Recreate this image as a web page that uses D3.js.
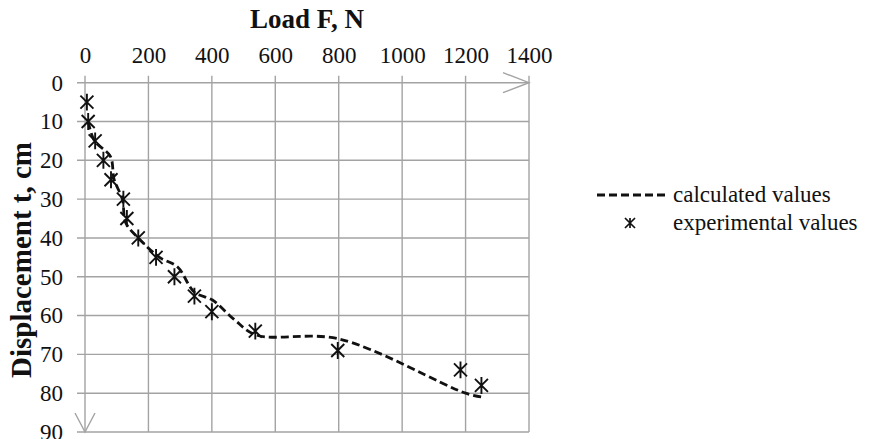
<!DOCTYPE html>
<html>
<head>
<meta charset="utf-8">
<script src="https://cdn.jsdelivr.net/npm/d3@7"></script>
<style>
  body { margin: 0; background: #fff; }
</style>
</head>
<body>
<div class="chart"></div>
<script>
// ticks
const xTicks = [0, 200, 400, 600, 800, 1000, 1200, 1400];
const yTicks = [0, 10, 20, 30, 40, 50, 60, 70, 80, 90];

// experimental values (load F, displacement t)
const expF = [6, 10, 32, 58, 82, 121, 132, 168, 224, 282, 345, 400, 537, 797, 1184, 1250];
const expT = [5, 10, 15, 20, 25, 30, 35, 40, 45, 50, 55, 59, 64, 69, 74, 78];

// calculated values
const calcF = [10, 30, 80, 92, 118, 128, 168, 235, 292, 345, 402, 470, 540, 800, 1200, 1252];
const calcT = [10, 15, 19, 25, 30, 36, 40, 45, 47.5, 54, 56, 61, 65, 66, 80, 81];

const serif = '"Liberation Serif"';
const W = 869, H = 439;
const svg = d3.select('.chart')
  .append('svg')
    .attr('width', W)
    .attr('height', H)
    .style('font-family', serif);

const x = d3.scaleLinear().domain([0, 1400]).range([85, 529]);
const y = d3.scaleLinear().domain([0, 90]).range([82.7, 432]);

const grid = '#a3a3a3';

// vertical gridlines
svg.append('g')
  .selectAll('line')
  .data(xTicks)
  .enter()
  .append('line')
    .attr('x1', d => x(d)).attr('x2', d => x(d))
    .attr('y1', y(0) - 7).attr('y2', y(90))
    .attr('stroke', grid)
    .attr('stroke-width', 1.4);

// horizontal gridlines
svg.append('g')
  .selectAll('line')
  .data(yTicks)
  .enter()
  .append('line')
    .attr('x1', x(0) - 8).attr('x2', x(1400))
    .attr('y1', d => y(d)).attr('y2', d => y(d))
    .attr('stroke', grid)
    .attr('stroke-width', 1.4);

// arrow heads
svg.append('path')
  .attr('d', `M${x(1400) - 26},${y(0) - 10} L${x(1400)},${y(0)} L${x(1400) - 26},${y(0) + 10}`)
  .attr('fill', 'none')
  .attr('stroke', grid)
  .attr('stroke-width', 1.4);
svg.append('path')
  .attr('d', `M${x(0) - 10},${y(90) - 19} L${x(0)},${y(90)} L${x(0) + 10},${y(90) - 19}`)
  .attr('fill', 'none')
  .attr('stroke', grid)
  .attr('stroke-width', 1.4);

// axes (labels only)
const xAxis = svg.append('g')
  .attr('transform', `translate(0, ${y(0)})`)
  .call(d3.axisTop(x).tickValues(xTicks).tickFormat(d3.format('d')).tickSize(0).tickPadding(20));
const yAxis = svg.append('g')
  .attr('transform', `translate(${x(0)}, 0)`)
  .call(d3.axisLeft(y).tickValues(yTicks).tickFormat(d3.format('d')).tickSize(0).tickPadding(22));
[xAxis, yAxis].forEach(a => {
  a.select('.domain').remove();
  a.selectAll('text')
    .attr('fill', '#111')
    .style('font-family', serif)
    .style('font-size', '23px');
});

// titles
svg.append('text')
  .attr('x', (x(0) + x(1400)) / 2)
  .attr('y', 28)
  .attr('text-anchor', 'middle')
  .attr('fill', '#111')
  .style('font-family', serif)
  .style('font-size', '27px')
  .style('font-weight', 'bold')
  .text('Load F, N');

svg.append('text')
  .attr('transform', `translate(31, 260) rotate(-90)`)
  .attr('text-anchor', 'middle')
  .attr('fill', '#111')
  .style('font-family', serif)
  .style('font-size', '29px')
  .style('font-weight', 'bold')
  .text('Displacement t, cm');

// calculated line
const calc = calcF.map((f, i) => ({ f: f, t: calcT[i] }));
const line = d3.line()
  .x(d => x(d.f))
  .y(d => y(d.t))
  .curve(d3.curveCatmullRom.alpha(0.5));

svg.append('path')
  .datum(calc)
  .attr('d', line)
  .attr('fill', 'none')
  .attr('stroke', '#111')
  .attr('stroke-width', 2.8)
  .attr('stroke-dasharray', '8,4');

// star marker
function star(g, s) {
  g.append('path')
    .attr('d', `M${-s},${-s}L${s},${s}M${-s},${s}L${s},${-s}M0,${-s * 1.3}L0,${s * 1.3}`)
    .attr('fill', 'none')
    .attr('stroke', '#111')
    .attr('stroke-width', 1.9);
}

const exp = expF.map((f, i) => ({ f: f, t: expT[i] }));
svg.append('g')
  .selectAll('g')
  .data(exp)
  .enter()
  .append('g')
    .attr('transform', d => `translate(${x(d.f)}, ${y(d.t)})`)
    .each(function () { star(d3.select(this), 6.5); });

// legend
const legend = svg.append('g');
legend.append('line')
  .attr('x1', 597).attr('x2', 666)
  .attr('y1', 195).attr('y2', 195)
  .attr('stroke', '#111')
  .attr('stroke-width', 2.8)
  .attr('stroke-dasharray', '8,4');
legend.append('text')
  .attr('x', 673).attr('y', 202)
  .attr('fill', '#111')
  .style('font-family', serif)
  .style('font-size', '23px')
  .text('calculated values');

const lg = legend.append('g').attr('transform', 'translate(630, 223)');
lg.append('path')
  .attr('d', 'M-5,-5L5,5M-5,5L5,-5M0,-5L0,5')
  .attr('fill', 'none')
  .attr('stroke', '#111')
  .attr('stroke-width', 1.7);
legend.append('text')
  .attr('x', 673).attr('y', 230)
  .attr('fill', '#111')
  .style('font-family', serif)
  .style('font-size', '23px')
  .text('experimental values');
</script>
</body>
</html>
